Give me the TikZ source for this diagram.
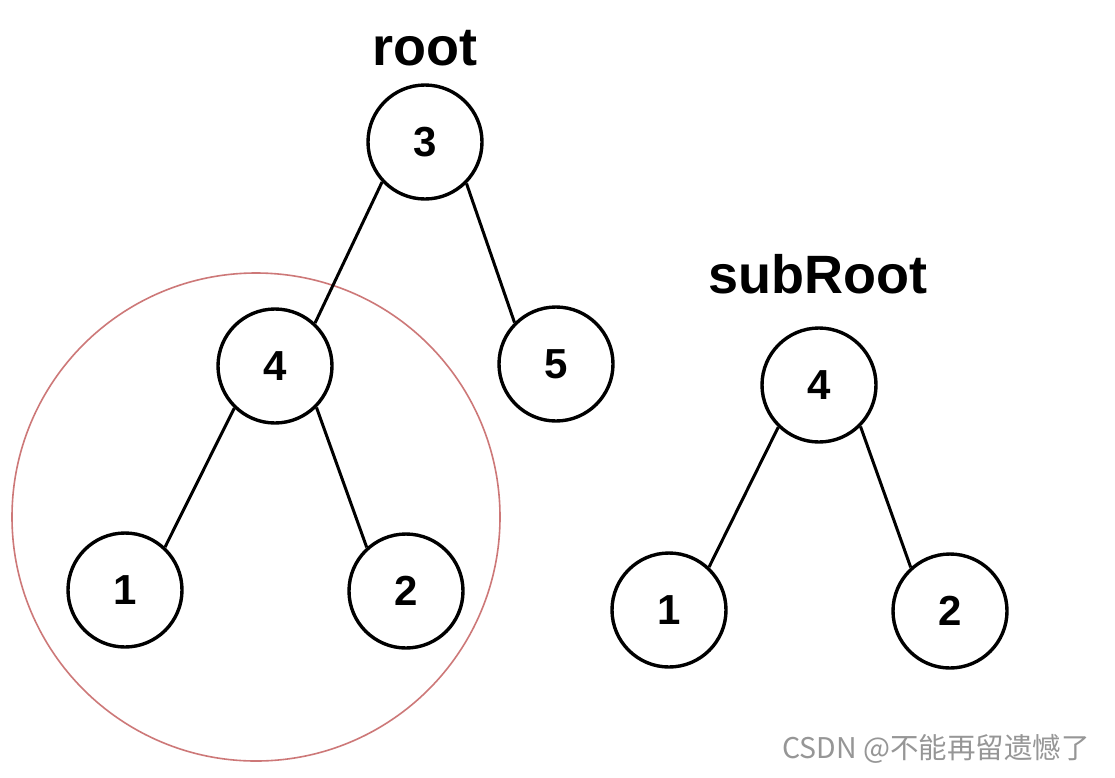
\documentclass[tikz,border=0pt]{standalone}
\usepackage{fontspec}
\setmainfont{Liberation Sans}
\newfontfamily\cjk{Noto Sans CJK SC}
\definecolor{redring}{RGB}{205,120,120}
\definecolor{wmgray}{RGB}{150,150,150}
\begin{document}
\begin{tikzpicture}[x=1pt,y=-1pt,
  tnode/.style={circle,draw=black,line width=3.4pt,minimum size=114pt,inner sep=0pt,
    font=\fontsize{42}{42}\selectfont\bfseries},
  edge/.style={draw=black,line width=3pt},
  lbl/.style={anchor=base,inner sep=0pt,font=\fontsize{54}{54}\selectfont\bfseries}]
\useasboundingbox (0,0) rectangle (1115,777);
\fill[white] (0,0) rectangle (1115,777);
% red ring
\node[circle,draw=redring,line width=1.6pt,minimum size=488pt,inner sep=0pt] (ring) at (256,517) {};
% labels
\node[lbl] (lroot) at (425,65) {root};
\node[lbl] (lsub) at (818,293) {subRoot};
% main tree
\node[tnode] (n3) at (425,142) {3};
\node[tnode] (n4) at (275,366) {4};
\node[tnode] (n5) at (556,364) {5};
\node[tnode] (n1) at (125,590) {1};
\node[tnode] (n2) at (406,591) {2};
% subtree
\node[tnode] (s4) at (819,385) {4};
\node[tnode] (s1) at (669,610) {1};
\node[tnode] (s2) at (950,611) {2};
% edges
\draw[edge] (n3.223) -- (n4.47);
\draw[edge] (n3.315) -- (n5.135);
\draw[edge] (n4.226) -- (n1.47);
\draw[edge] (n4.315) -- (n2.132);
\draw[edge] (s4.226) -- (s1.47);
\draw[edge] (s4.315) -- (s2.132);
% watermark
\node[anchor=base west,inner sep=0pt,text=wmgray,font=\cjk\fontsize{28.5}{28.5}\selectfont] (wm) at (782,758) {CSDN @不能再留遗憾了};
\end{tikzpicture}
\end{document}
